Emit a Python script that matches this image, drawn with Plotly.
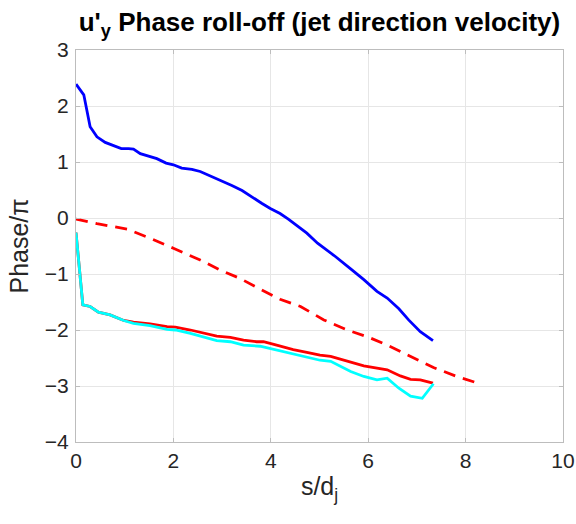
import plotly.graph_objects as go

# Phase (in units of pi) versus streamwise distance s/d_j
s_blue = [0, 0.16, 0.29, 0.43, 0.60, 0.77, 0.93, 1.08, 1.18, 1.32, 1.49, 1.66, 1.85, 2.0,
          2.17, 2.38, 2.55, 2.76, 2.96, 3.2, 3.41, 3.61, 3.82, 3.99, 4.19, 4.36, 4.55,
          4.74, 4.96, 5.30, 5.64, 5.91, 6.18, 6.39, 6.63, 6.83, 7.07, 7.33]
ph_blue = [2.39, 2.20, 1.63, 1.45, 1.35, 1.29, 1.24, 1.24, 1.23, 1.15, 1.10, 1.06, 0.98, 0.95,
           0.89, 0.87, 0.83, 0.75, 0.68, 0.58, 0.49, 0.37, 0.26, 0.17, 0.08, -0.02, -0.14,
           -0.27, -0.45, -0.67, -0.91, -1.10, -1.31, -1.43, -1.62, -1.82, -2.03, -2.19]

s_dash = [0, 0.43, 1.05, 1.52, 2.0, 2.55, 2.96, 3.37, 3.78, 4.19, 4.61, 5.09, 5.57, 5.98,
          6.39, 6.87, 7.34, 7.82, 8.33]
ph_dash = [-0.02, -0.10, -0.20, -0.36, -0.54, -0.75, -0.93, -1.08, -1.27, -1.45, -1.58,
           -1.82, -2.0, -2.12, -2.27, -2.47, -2.67, -2.83, -2.97]

s_red = [0, 0.14, 0.29, 0.46, 0.70, 0.98, 1.18, 1.52, 1.87, 2.04, 2.35, 2.62, 2.89, 3.17,
         3.44, 3.71, 3.85, 4.12, 4.46, 4.74, 5.01, 5.23, 5.57, 5.91, 6.39, 6.66, 6.87, 7.07, 7.33]
ph_red = [-0.26, -1.55, -1.58, -1.68, -1.73, -1.83, -1.86, -1.89, -1.94, -1.95, -2.0, -2.06,
          -2.11, -2.13, -2.18, -2.21, -2.21, -2.27, -2.35, -2.40, -2.45, -2.47, -2.56, -2.64,
          -2.71, -2.82, -2.88, -2.89, -2.95]

s_cyan = [0, 0.14, 0.29, 0.46, 0.70, 0.98, 1.18, 1.52, 1.87, 2.04, 2.35, 2.62, 2.89, 3.17,
          3.44, 3.78, 4.12, 4.46, 4.74, 5.01, 5.23, 5.64, 5.91, 6.18, 6.39, 6.63, 6.87, 7.11, 7.34]
ph_cyan = [-0.26, -1.55, -1.58, -1.68, -1.73, -1.83, -1.88, -1.92, -1.99, -2.0, -2.06, -2.12,
           -2.19, -2.21, -2.27, -2.29, -2.36, -2.43, -2.48, -2.54, -2.56, -2.74, -2.83, -2.89,
           -2.86, -3.04, -3.18, -3.22, -2.96]

x_ticks = [0, 2, 4, 6, 8, 10]
y_ticks = [-4, -3, -2, -1, 0, 1, 2, 3]

FONT = "Liberation Sans, Arial, Helvetica, sans-serif"

fig = go.Figure()
fig.add_trace(go.Scatter(x=s_blue, y=ph_blue, mode="lines",
                         line=dict(color="#0000FF", width=2.8)))
fig.add_trace(go.Scatter(x=s_dash, y=ph_dash, mode="lines",
                         line=dict(color="#FF0000", width=2.8, dash="12px,8px")))
fig.add_trace(go.Scatter(x=s_red, y=ph_red, mode="lines",
                         line=dict(color="#FF0000", width=2.8)))
fig.add_trace(go.Scatter(x=s_cyan, y=ph_cyan, mode="lines",
                         line=dict(color="#00FFFF", width=2.8)))

axis_common = dict(
    automargin=False,
    showgrid=True, gridcolor="#e6e6e6", gridwidth=1,
    showline=True, linecolor="#bdbdbd", linewidth=1.2, mirror="ticks",
    ticks="inside", ticklen=4, tickcolor="#bdbdbd",
    zeroline=False,
    tickfont=dict(family=FONT, size=21, color="#262626"),
)

fig.update_layout(
    width=576, height=524,
    margin=dict(l=76, r=13, t=50, b=82),
    paper_bgcolor="white", plot_bgcolor="white",
    showlegend=False,
    title=dict(
        text="<b>u'<sub>y</sub> Phase roll-off (jet direction velocity)</b>",
        x=(76 + 563) / 2 / 576, xanchor="center", y=0.958, yanchor="middle",
        font=dict(family=FONT, size=26, color="black"),
    ),
    xaxis=dict(range=[0, 10], tickvals=x_ticks,
               title=dict(text="s/d<sub>j</sub>", standoff=6,
                          font=dict(family=FONT, size=25, color="#262626")),
               **axis_common),
    yaxis=dict(range=[-4, 3], tickvals=y_ticks, ticklabelstandoff=2,
               title=dict(text="Phase/π", standoff=8,
                          font=dict(family=FONT, size=25, color="#262626")),
               **axis_common),
)

fig.write_html("out.html")
